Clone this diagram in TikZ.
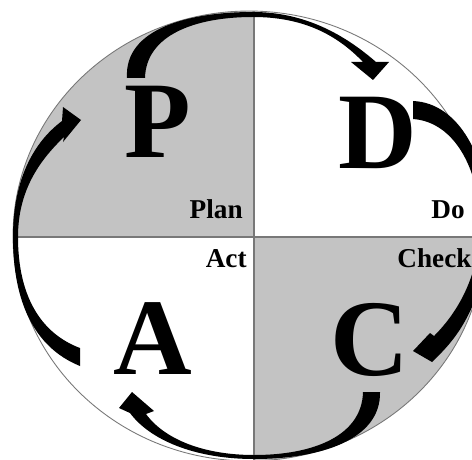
\documentclass[tikz,border=0pt]{standalone}
\usepackage{fontspec}
\setmainfont{Liberation Serif}
\usepackage{xcolor}
\usepackage{tikz}
\usetikzlibrary{positioning,calc}
\definecolor{quadgray}{RGB}{195,195,195}
\definecolor{rimgray}{RGB}{120,120,120}
\tikzset{letter/.style={font=\fontsize{62}{62}\selectfont\bfseries,inner sep=0pt,anchor=base}}
\tikzset{tag/.style={font=\fontsize{15.5}{15.5}\selectfont\bfseries,inner sep=0pt}}
\tikzset{sweep/.style={fill=black}}

\begin{document}
\begin{tikzpicture}[x=0.02cm,y=-0.02cm]
  \useasboundingbox (0,0) rectangle (472,459);
  \clip (0,0) rectangle (472,459);

  % quadrants
  \begin{scope}
    \clip (249,236) ellipse [x radius=4.72cm,y radius=4.5cm];
    \fill[quadgray] (0,0) rectangle (254,237);
    \fill[quadgray] (254,237) rectangle (490,470);
    \draw[rimgray,line width=0.6pt] (0,237) -- (490,237);
    \draw[rimgray,line width=0.6pt] (254,0) -- (254,470);
  \end{scope}
  \draw[rimgray,line width=0.5pt] (249,236) ellipse [x radius=4.72cm,y radius=4.5cm];

  \node[letter] (P) at (158,157) {P};
  \node[letter] (D) at (378,168) {D};
  \node[letter] (A) at (153,374) {A};
  \node[letter] (C) at (370,375) {C};

  \node[tag,anchor=base east] (plan) at (243,218) {Plan};
  \node[tag,anchor=base west] (do) at (431,218) {Do};
  \node[tag,anchor=base east] (act) at (247,267) {Act};
  \node[tag,anchor=base west] (check) at (397,267) {Check};

  % P -> D
  \fill[sweep] (127,78) .. controls (124,28) and (190,12) .. (253,12)
    .. controls (305,12) and (345,35) .. (376,62) -- (389,62) -- (373,80) -- (351,62) -- (363,62)
    .. controls (338,36) and (305,17) .. (253,17)
    .. controls (195,17) and (146,35) .. (145,78) -- cycle;
  % D -> C
  \fill[sweep] (413,101) .. controls (460,103) and (488,160) .. (488,220)
    .. controls (488,285) and (468,325) .. (442,352) -- (432,362) -- (413,351) -- (430,333) -- (434,336)
    .. controls (458,312) and (480,275) .. (480,222)
    .. controls (479,170) and (455,122) .. (413,119) -- cycle;
  % C -> A
  \fill[sweep] (380,392) .. controls (381,440) and (320,459) .. (254,459)
    .. controls (195,459) and (150,440) .. (130,413) -- (119,408) -- (132,392) -- (154,411) -- (146,414)
    .. controls (165,440) and (205,455) .. (254,455)
    .. controls (315,455) and (362,435) .. (363,392) -- cycle;
  % A -> P
  \fill[sweep] (80,366) .. controls (33,347) and (13,300) .. (13,237)
    .. controls (13,185) and (30,145) .. (62,121) -- (63,107) -- (81,120) -- (63,142) -- (64,137)
    .. controls (40,160) and (18,190) .. (18,237)
    .. controls (18,295) and (40,333) .. (80,348) -- cycle;
\end{tikzpicture}
\end{document}
